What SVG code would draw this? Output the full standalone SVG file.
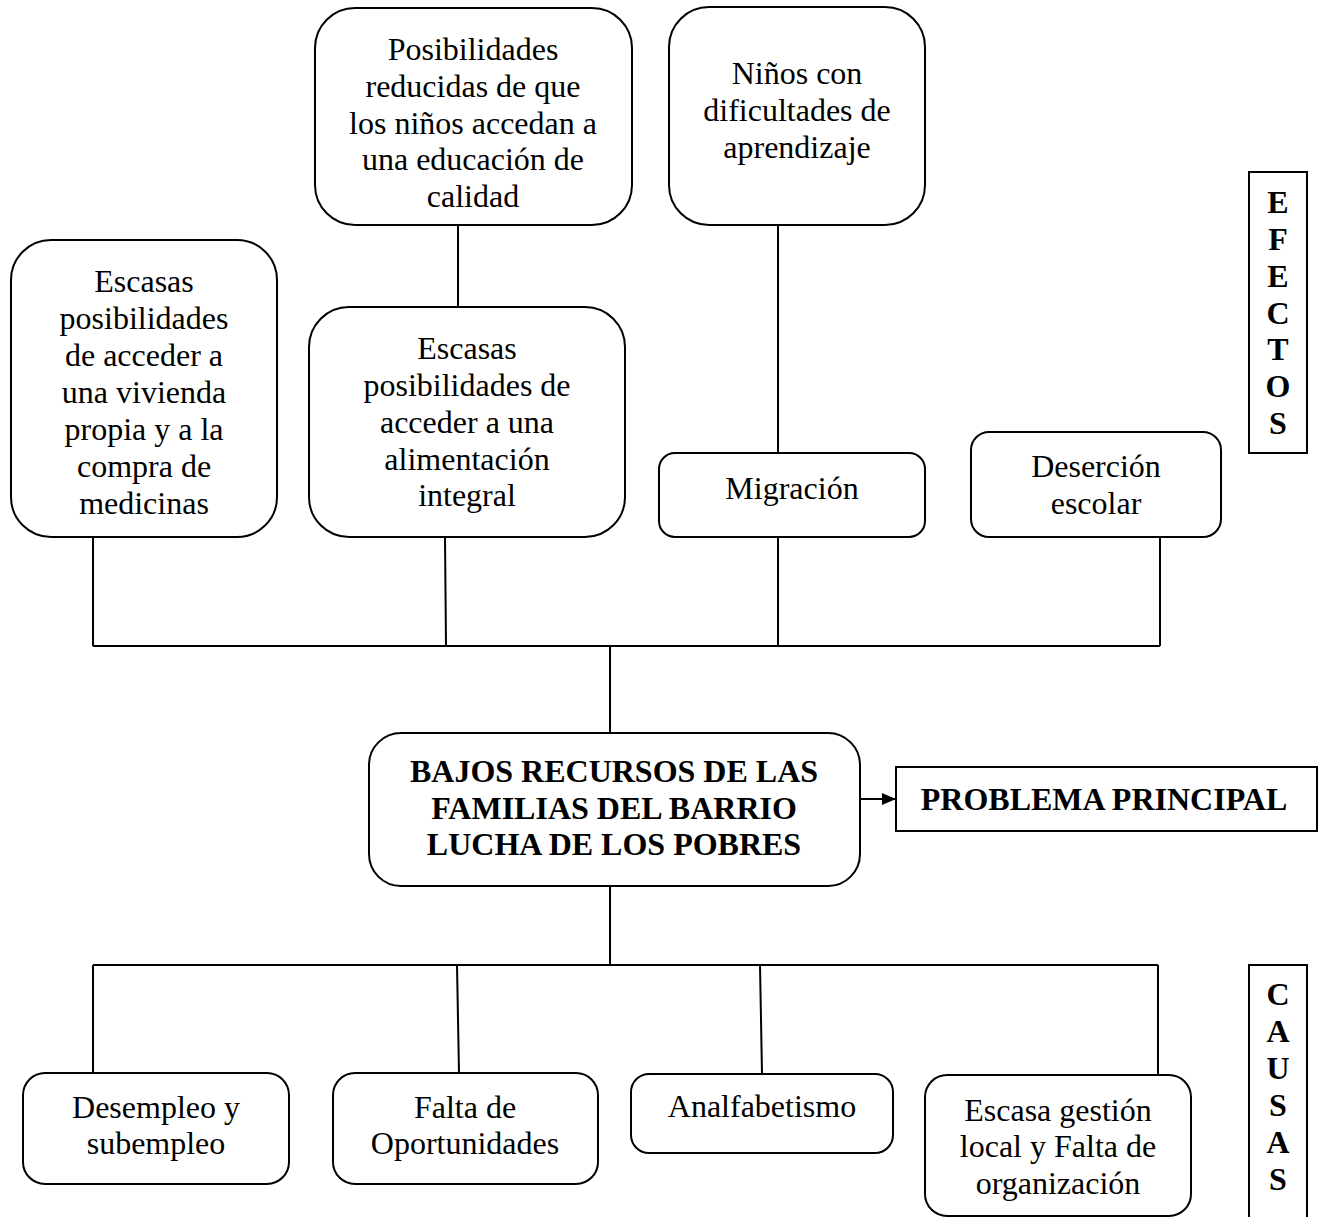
<svg xmlns="http://www.w3.org/2000/svg" width="1325" height="1217" viewBox="0 0 1325 1217">
<defs>
<style>
.box{fill:#fff;stroke:#000;stroke-width:2}
.ln{stroke:#000;stroke-width:2;fill:none}
text{font-family:"Liberation Serif","Times New Roman",serif;font-size:32px;fill:#000;text-anchor:middle}
.b{font-weight:bold}
.v{font-weight:bold;font-size:32px}
</style>
<marker id="arr" markerWidth="14" markerHeight="12" refX="14" refY="6" orient="auto" markerUnits="userSpaceOnUse">
<path d="M0,0 L14,6 L0,12 Z" fill="#000"/>
</marker>
</defs>
<rect width="1325" height="1217" fill="#fff"/>
<g id="connectors">
<path class="ln" d="M458,225 V307"/>
<path class="ln" d="M778,225 V453"/>
<path class="ln" d="M93,537 V646 M445,537 L446,646 M778,537 V646 M1160,537 V646 M93,646 H1160 M610,646 V733"/>
<path class="ln" d="M610,886 V965 M93,965 H1158 M93,965 V1073 M457,965 L459,1073 M760,965 L762,1074 M1158,965 V1075"/>
<path class="ln" d="M860,799 H896" marker-end="url(#arr)"/>
</g>
<g id="n_vivienda"><rect class="box" x="11" y="240" width="266" height="297" rx="40"/>
<text x="144" y="292">Escasas</text><text x="144" y="329">posibilidades</text><text x="144" y="366">de acceder a</text><text x="144" y="403">una vivienda</text><text x="144" y="440">propia y a la</text><text x="144" y="477">compra de</text><text x="144" y="514">medicinas</text></g>
<g id="n_educacion"><rect class="box" x="315" y="8" width="317" height="217" rx="40"/>
<text x="473" y="60">Posibilidades</text><text x="473" y="97">reducidas de que</text><text x="473" y="134">los niños accedan a</text><text x="473" y="170">una educación de</text><text x="473" y="207">calidad</text></g>
<g id="n_alimentacion"><rect class="box" x="309" y="307" width="316" height="230" rx="40"/>
<text x="467" y="359">Escasas</text><text x="467" y="396">posibilidades de</text><text x="467" y="433">acceder a una</text><text x="467" y="470">alimentación</text><text x="467" y="506">integral</text></g>
<g id="n_aprendizaje"><rect class="box" x="669" y="7" width="256" height="218" rx="40"/>
<text x="797" y="84">Niños con</text><text x="797" y="121">dificultades de</text><text x="797" y="158">aprendizaje</text></g>
<g id="n_migracion"><rect class="box" x="659" y="453" width="266" height="84" rx="16"/>
<text x="792" y="499">Migración</text></g>
<g id="n_desercion"><rect class="box" x="971" y="432" width="250" height="105" rx="18"/>
<text x="1096" y="477">Deserción</text><text x="1096" y="514">escolar</text></g>
<g id="n_efectos"><rect class="box" x="1249" y="172" width="58" height="281"/>
<text class="v" x="1278" y="213">E</text><text class="v" x="1278" y="250">F</text><text class="v" x="1278" y="287">E</text><text class="v" x="1278" y="324">C</text><text class="v" x="1278" y="360">T</text><text class="v" x="1278" y="397">O</text><text class="v" x="1278" y="434">S</text></g>
<g id="n_problema"><rect class="box" x="369" y="733" width="491" height="153" rx="32"/>
<text class="b" x="614" y="782">BAJOS RECURSOS DE LAS</text><text class="b" x="614" y="819">FAMILIAS DEL BARRIO</text><text class="b" x="614" y="855">LUCHA DE LOS POBRES</text></g>
<g id="n_principal"><rect class="box" x="896" y="767" width="421" height="64"/>
<text class="b" x="1104" y="810">PROBLEMA PRINCIPAL</text></g>
<g id="n_desempleo"><rect class="box" x="23" y="1073" width="266" height="111" rx="22"/>
<text x="156" y="1118">Desempleo y</text><text x="156" y="1154">subempleo</text></g>
<g id="n_oportunidades"><rect class="box" x="333" y="1073" width="265" height="111" rx="22"/>
<text x="465" y="1118">Falta de</text><text x="465" y="1154">Oportunidades</text></g>
<g id="n_analfabetismo"><rect class="box" x="631" y="1074" width="262" height="79" rx="18"/>
<text x="762" y="1117">Analfabetismo</text></g>
<g id="n_gestion"><rect class="box" x="925" y="1075" width="266" height="141" rx="22"/>
<text x="1058" y="1121">Escasa gestión</text><text x="1058" y="1157">local y Falta de</text><text x="1058" y="1194">organización</text></g>
<g id="n_causas"><rect class="box" x="1249" y="965" width="58" height="260"/>
<text class="v" x="1278" y="1005">C</text><text class="v" x="1278" y="1042">A</text><text class="v" x="1278" y="1079">U</text><text class="v" x="1278" y="1116">S</text><text class="v" x="1278" y="1153">A</text><text class="v" x="1278" y="1190">S</text></g>
</svg>
